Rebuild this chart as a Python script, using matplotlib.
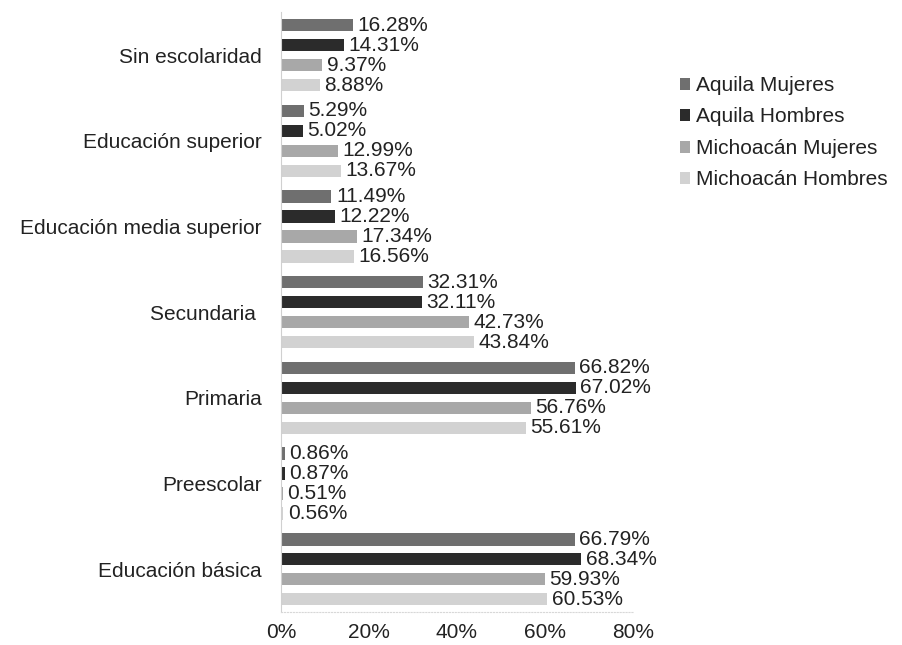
import numpy as np
import matplotlib.pyplot as plt
from matplotlib.ticker import PercentFormatter

plt.rcParams['font.family'] = ['Liberation Sans', 'DejaVu Sans']

categories = ['Sin escolaridad', 'Educación superior', 'Educación media superior',
              'Secundaria ', 'Primaria', 'Preescolar', 'Educación básica']
series = ['Aquila Mujeres', 'Aquila Hombres', 'Michoacán Mujeres', 'Michoacán Hombres']
aquila_mujeres = [16.28, 5.29, 11.49, 32.31, 66.82, 0.86, 66.79]
aquila_hombres = [14.31, 5.02, 12.22, 32.11, 67.02, 0.87, 68.34]
mich_mujeres = [9.37, 12.99, 17.34, 42.73, 56.76, 0.51, 59.93]
mich_hombres = [8.88, 13.67, 16.56, 43.84, 55.61, 0.56, 60.53]
colors = ['#6f6f6f', '#2b2b2b', '#a8a8a8', '#d2d2d2']

fig = plt.figure(figsize=(9.02, 6.45), dpi=100)
ax = fig.add_axes([0.3115, 0.051, 0.390, 0.930])

values = [aquila_mujeres, aquila_hombres, mich_mujeres, mich_hombres]
n = len(categories)
y = np.arange(n)
pitch = 0.233
height = 0.145
fs = 15

for i, (vals, name, c) in enumerate(zip(values, series, colors)):
    pos = y + (i - 1.5) * pitch
    ax.barh(pos, vals, height=height, color=c, label=name)
    for p, v in zip(pos, vals):
        ax.text(v + 1.0, p, f'{v:.2f}%', va='center', ha='left',
                fontsize=fs, color='#222222')

ax.set_yticks(y)
ax.set_yticklabels(categories, fontsize=fs, color='#222222')
ax.set_ylim(n - 0.5, -0.5)
ax.set_xlim(0, 80)
ax.set_xticks([0, 20, 40, 60, 80])
ax.xaxis.set_major_formatter(PercentFormatter(decimals=0))
ax.tick_params(axis='x', labelsize=fs, colors='#222222', length=0, pad=8)
ax.tick_params(axis='y', length=0, pad=14)

for s in ['top', 'right']:
    ax.spines[s].set_visible(False)
ax.spines['left'].set_color('#d0d0d0')
ax.spines['bottom'].set_color('#d8d8d8')
ax.spines['bottom'].set_linestyle(':')

ax.legend(loc='upper left', bbox_to_anchor=(1.08, 0.925), frameon=False,
          fontsize=fs, handlelength=0.5, handleheight=0.5, handletextpad=0.3,
          labelspacing=0.6, labelcolor='#222222')

fig.savefig('out.png', dpi=100)
